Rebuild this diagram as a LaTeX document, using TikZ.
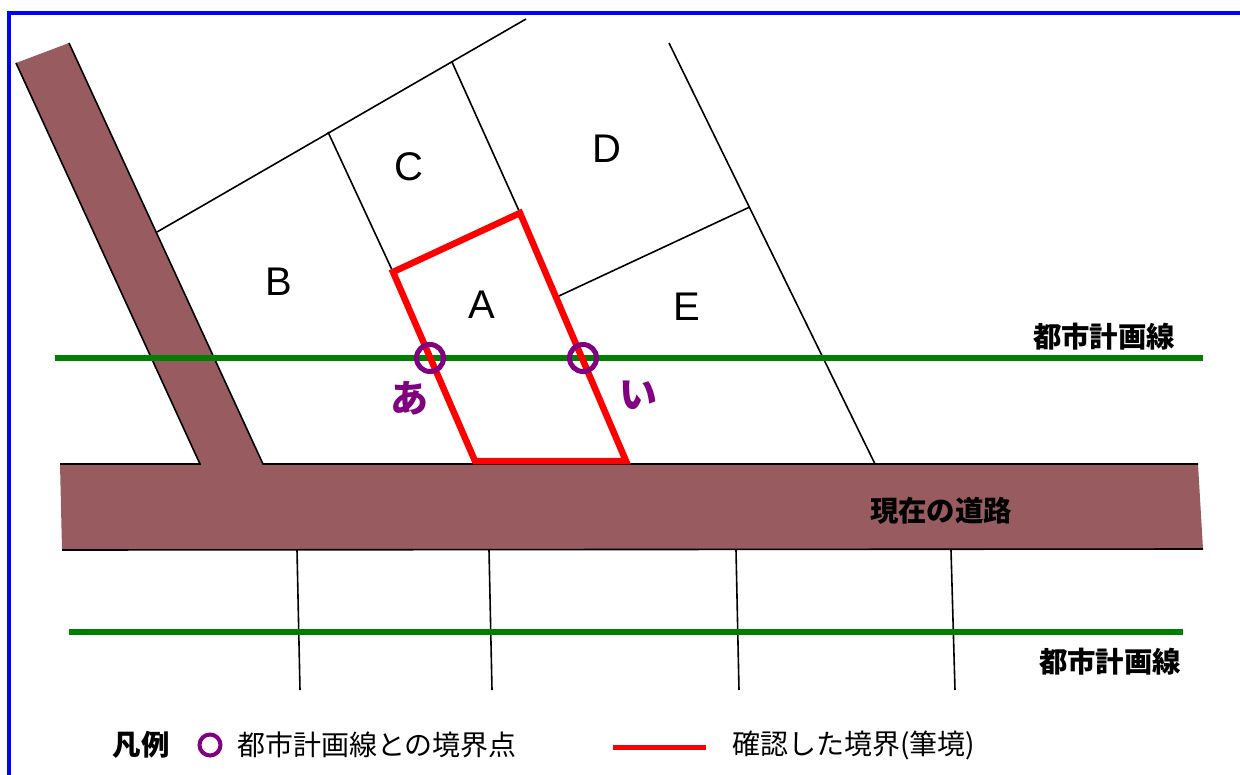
\documentclass[tikz,border=0pt]{standalone}
\usepackage{fontspec}
\setmainfont{Liberation Sans}
\newfontfamily\jpfont{Noto Sans CJK JP}
\usetikzlibrary{calc}

\definecolor{roadbrown}{RGB}{152,92,96}
\definecolor{planpurple}{RGB}{128,0,128}
\definecolor{plangreen}{RGB}{0,128,0}

\tikzset{
  lot/.style={line width=1.6},
  fude/.style={red, line width=6.5},
  keikaku/.style={plangreen, line width=6},
  ring/.style={circle, draw=planpurple, line width=5, minimum size=27, inner sep=0},
  lotname/.style={inner sep=0, font=\fontsize{40}{40}\selectfont},
  jpbold/.style={inner sep=0, font=\jpfont\bfseries\fontsize{28.4}{30}\selectfont},
  jptext/.style={inner sep=0, anchor=west, font=\jpfont\fontsize{28}{30}\selectfont},
  kana/.style={inner sep=0, text=planpurple, font=\jpfont\bfseries\fontsize{38}{40}\selectfont}
}

\begin{document}
\begin{tikzpicture}[x=1pt,y=-1pt]
    \useasboundingbox (0,0) rectangle (1240,774);
    \draw [blue, line width=4] (9,800) |- (1260,13);

    % roads
    \fill [roadbrown] (16,63) -- (69,43) -- (263,464) -- (1198,464) -- (1203,549)
        -- (62,550) -- (60,464) -- (200,464) -- cycle;
    \draw [lot] (16,63) -- (200,464) -- (60,464);
    \draw [lot] (69,43) -- (263,464) -- (1198,464);
    \draw [lot] (62,550) -- (1203,549);

    % lots
    \coordinate (b1) at (157,232);
    \coordinate (c1) at (328,132);
    \coordinate (d1) at (452,62);
    \coordinate (top) at (526,19);
    \coordinate (a1) at (393,272);
    \coordinate (a2) at (520,213);
    \coordinate (a3) at (626,461);
    \coordinate (a4) at (475,461);
    \coordinate (e1) at (669,43);
    \coordinate (e2) at (875,464);
    \draw [lot] (b1) -- (top);
    \draw [lot] (c1) -- (a1);
    \draw [lot] (d1) -- (a2);
    \draw [lot] (e1) -- (e2);
    \draw [lot] ($(a2)!0.34!(a3)$) -- ($(e1)!0.39!(e2)$);
    \foreach \xa/\xb in {297/300,489/492,736/739,951/955}
        {\draw [lot] (\xa,550) -- (\xb,690);}

    % city planning lines
    \draw [keikaku] (55,358) -- (1203,358);
    \draw [keikaku] (69,632) -- (1183,632);
    \draw [fude] (a1) -- (a2) -- (a3) -- (a4) -- cycle;
    \node [ring] (pa) at (430,358) {};
    \node [ring] (pi) at (583,358) {};

    \node [lotname] (lA) at (482,305) {A};
    \node [lotname] (lB) at (279,282) {B};
    \node [lotname] (lC) at (409,167) {C};
    \node [lotname] (lD) at (607,149) {D};
    \node [lotname] (lE) at (687,307) {E};
    \node [kana] (ka) at (409,398) {あ};
    \node [kana] (ki) at (638,395) {い};

    \node [jpbold] (plan1) at (1104,337) {都市計画線};
    \node [jpbold] (plan2) at (1110,662) {都市計画線};
    \node [jpbold] (road) at (941,511) {現在の道路};

    % legend
    \node [jpbold] (legend) at (141,745) {凡例};
    \node [ring, minimum size=21, line width=4] (legring) at (210,745) {};
    \node [jptext] (legtext1) at (237,745) {都市計画線との境界点};
    \coordinate (leg1) at (613,747);
    \coordinate (leg2) at (706,747);
    \draw [fude, line width=5] (leg1) -- (leg2);
    \node [jptext] (legtext2) at (732,745) {確認した境界(筆境)};
\end{tikzpicture}
\end{document}
